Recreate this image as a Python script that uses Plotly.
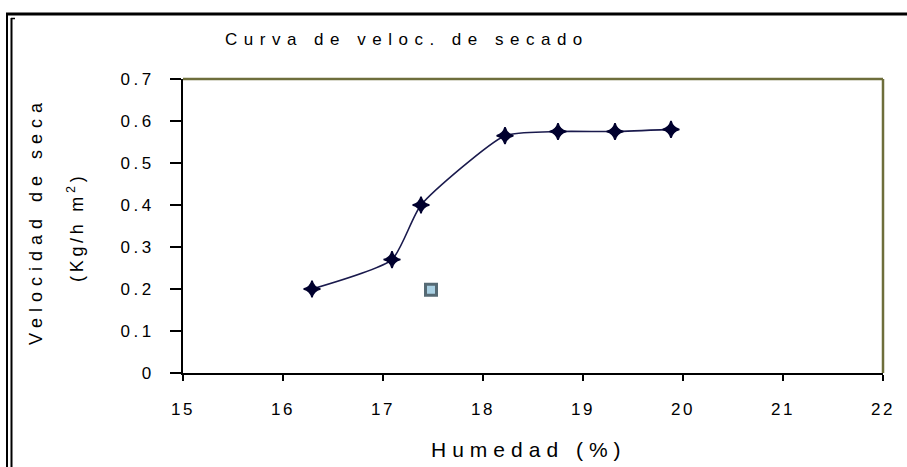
import plotly.graph_objects as go

# ---- data ----
humedad = [16.29, 17.09, 17.38, 18.22, 18.75, 19.32, 19.88]
velocidad = [0.20, 0.27, 0.40, 0.565, 0.575, 0.575, 0.58]
extra_x = [17.48]
extra_y = [0.198]
x_ticks = [15, 16, 17, 18, 19, 20, 21, 22]
y_ticks = [0, 0.1, 0.2, 0.3, 0.4, 0.5, 0.6, 0.7]
y_tick_labels = ["0", "0.1", "0.2", "0.3", "0.4", "0.5", "0.6", "0.7"]
title_text = "Curva de veloc. de secado"
xtitle_text = "Humedad (%)"
ytitle_line1 = "Velocidad de seca"
ytitle_line2 = "(Kg/h m<sup>2</sup>)"

W, H = 907, 467
L, R, T, B = 183, 883, 79, 373


def px(xp):
    return (xp - L) / (R - L)


def py(yp):
    return (B - yp) / (B - T)


def spaced(s, sp):
    return f"<span style='letter-spacing:{sp}px'>{s}</span>"


FONT = "Liberation Sans, Arial, sans-serif"

fig = go.Figure()
fig.add_trace(go.Scatter(
    x=humedad, y=velocidad, mode="lines+markers",
    line=dict(color="#1a1a4d", width=1.6, shape="spline", smoothing=0.55),
    marker=dict(symbol="star-diamond", size=12, color="#00002e",
                line=dict(color="#00002e", width=1.5)),
    showlegend=False, hoverinfo="x+y"))
fig.add_trace(go.Scatter(
    x=extra_x, y=extra_y, mode="markers",
    marker=dict(symbol="square", size=11, color="#a9d0e3",
                line=dict(color="#566a74", width=3)),
    showlegend=False))

fig.update_xaxes(range=[15, 22], tickvals=x_ticks,
                 ticktext=[spaced(str(v), 2.5) for v in x_ticks],
                 showgrid=False, zeroline=False, showline=True,
                 linecolor="black", linewidth=2, ticks="outside",
                 ticklen=6, tickwidth=1.5, tickcolor="black",
                 ticklabelstandoff=14,
                 tickfont=dict(family=FONT, size=17, color="black"))
fig.update_yaxes(range=[0, 0.7], tickvals=y_ticks,
                 ticktext=[spaced(t, 3.5) for t in y_tick_labels],
                 showgrid=False, zeroline=False, showline=True,
                 linecolor="black", linewidth=2, ticks="outside",
                 ticklen=11, tickwidth=2, tickcolor="black",
                 ticklabelstandoff=12,
                 tickfont=dict(family=FONT, size=17, color="black"))

shapes = [
    # plot border top/right (olive)
    dict(type="line", xref="paper", yref="paper", x0=0, x1=1, y0=1, y1=1,
         line=dict(color="#6e6e3b", width=2.5)),
    dict(type="line", xref="paper", yref="paper", x0=1, x1=1, y0=0, y1=1,
         line=dict(color="#6e6e3b", width=2.5)),
    # outer frame
    dict(type="line", xref="paper", yref="paper", x0=px(6), x1=px(907), y0=py(14), y1=py(14),
         line=dict(color="black", width=3)),
    dict(type="line", xref="paper", yref="paper", x0=px(7), x1=px(7), y0=py(13), y1=py(467),
         line=dict(color="black", width=2)),
    dict(type="line", xref="paper", yref="paper", x0=px(11.5), x1=px(11.5), y0=py(18), y1=py(467),
         line=dict(color="black", width=2)),
    dict(type="line", xref="paper", yref="paper", x0=px(11), x1=px(15), y0=py(18.5), y1=py(18.5),
         line=dict(color="black", width=1.5)),
]

annotations = [
    dict(text=spaced(title_text, 6.5), xref="paper", yref="paper",
         x=px(223), y=py(40), xanchor="left", yanchor="middle", showarrow=False,
         font=dict(family=FONT, size=17, color="black")),
    dict(text=spaced(xtitle_text, 6), xref="paper", yref="paper",
         x=px(529), y=py(449), xanchor="center", yanchor="middle", showarrow=False,
         font=dict(family=FONT, size=21, color="black")),
    dict(text=spaced(ytitle_line1, 6), xref="paper", yref="paper",
         x=px(36), y=py(221), xanchor="center", yanchor="middle", showarrow=False,
         textangle=-90, font=dict(family=FONT, size=18, color="black")),
    dict(text=spaced(ytitle_line2, 3.7), xref="paper", yref="paper",
         x=px(75), y=py(228), xanchor="center", yanchor="middle", showarrow=False,
         textangle=-90, font=dict(family=FONT, size=18, color="black")),
]

fig.update_layout(
    width=W, height=H,
    margin=dict(l=L, r=W - R, t=T, b=H - B, pad=0),
    paper_bgcolor="white", plot_bgcolor="white",
    shapes=shapes, annotations=annotations,
    font=dict(family=FONT, color="black"),
)

fig.write_html("out.html", config={"displayModeBar": False},
               post_script="document.body.style.margin='0';document.body.style.padding='0';")
